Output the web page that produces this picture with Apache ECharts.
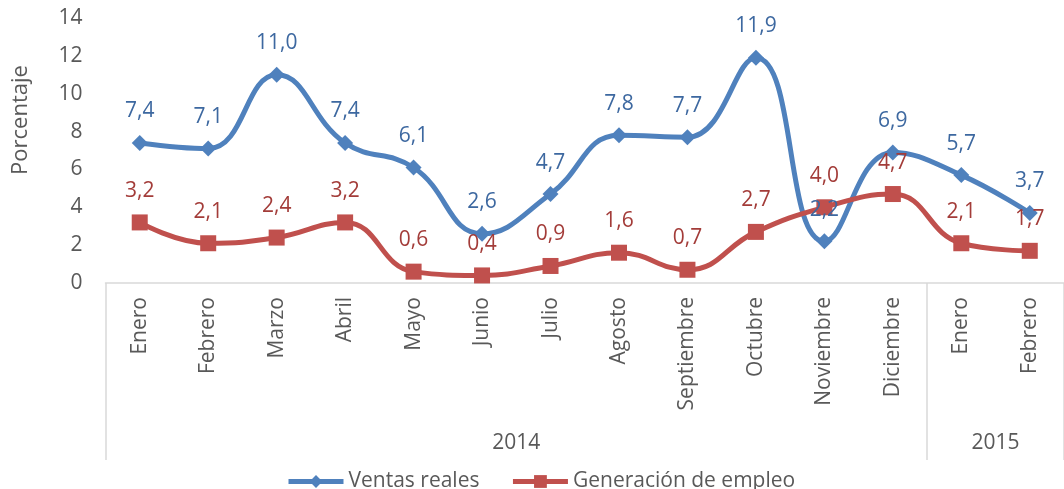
<!DOCTYPE html>
<html>
<head>
<meta charset="utf-8">
<script src="https://cdn.jsdelivr.net/npm/echarts@6/dist/echarts.min.js"></script>
<style>
  html, body { margin: 0; padding: 0; background: #fff; }
  #chart { width: 1064px; height: 489px; }
</style>
</head>
<body>
<div id="chart"></div>
<script>
let meses = ['Enero', 'Febrero', 'Marzo', 'Abril', 'Mayo', 'Junio', 'Julio', 'Agosto',
             'Septiembre', 'Octubre', 'Noviembre', 'Diciembre', 'Enero', 'Febrero'];
let ventas = [7.4, 7.1, 11.0, 7.4, 6.1, 2.6, 4.7, 7.8, 7.7, 11.9, 2.2, 6.9, 5.7, 3.7];
let empleo = [3.2, 2.1, 2.4, 3.2, 0.6, 0.4, 0.9, 1.6, 0.7, 2.7, 4.0, 4.7, 2.1, 1.7];
// grupos de año: nombre, posicion del centro, limites
let anios = ['2014', '2015'];
let centroAnios = [6, 13];
let limitesAnios = [0, 12, 14];

let fuente = '"Open Sans", sans-serif';
let gris = '#595959';
let tam = 21;

let chart = echarts.init(document.getElementById('chart'));

function etiqueta(color) {
    return {
        show: true,
        position: 'top',
        distance: 13,
        color: color,
        fontSize: tam,
        fontFamily: fuente,
        formatter: function (p) {
            return p.value.toFixed(1).replace('.', ',');
        }
    };
}

let option = {
    animation: false,
    grid: { left: 105.5, right: -8.6, top: 18, bottom: 206 },
    legend: {
        left: 281,
        top: 466,
        itemWidth: 55,
        itemHeight: 16,
        itemGap: 31,
        lineStyle: { width: 5 },
        textStyle: { color: gris, fontSize: tam, fontFamily: fuente },
        data: ['Ventas reales', 'Generación de empleo']
    },
    graphic: [{
        type: 'text',
        x: 10,
        y: 120,
        rotation: Math.PI / 2,
        style: {
            text: 'Porcentaje',
            fill: gris,
            fontSize: 22,
            fontFamily: fuente,
            align: 'center',
            verticalAlign: 'top'
        }
    }],
    xAxis: [{
        type: 'category',
        data: meses,
        boundaryGap: true,
        axisLine: { lineStyle: { color: '#d9d9d9', width: 1.5 } },
        axisTick: { show: false },
        axisLabel: {
            rotate: 90,
            margin: 14,
            interval: 0,
            color: gris,
            fontSize: tam,
            fontFamily: fuente
        }
    }, {
        type: 'value',
        min: 0,
        max: 14,
        position: 'bottom',
        axisLine: { show: false },
        splitLine: { show: false },
        axisTick: {
            show: true,
            customValues: limitesAnios,
            length: 177,
            lineStyle: { color: '#d9d9d9', width: 1.5 }
        },
        axisLabel: {
            customValues: centroAnios,
            margin: 150,
            color: gris,
            fontSize: tam,
            fontFamily: fuente,
            formatter: function (v) {
                return anios[centroAnios.indexOf(v)];
            }
        }
    }],
    yAxis: {
        type: 'value',
        min: 0,
        max: 14,
        interval: 2,
        axisLine: { show: false },
        axisTick: { show: false },
        splitLine: { show: false },
        axisLabel: { margin: 23, color: gris, fontSize: tam, fontFamily: fuente }
    },
    series: [{
        name: 'Ventas reales',
        type: 'line',
        data: ventas,
        smooth: 0.45,
        symbol: 'diamond',
        symbolSize: 16,
        lineStyle: { width: 5, color: '#4f81bd' },
        itemStyle: { color: '#4f81bd' },
        label: etiqueta('#3d68a0')
    }, {
        name: 'Generación de empleo',
        type: 'line',
        data: empleo,
        smooth: 0.45,
        symbol: 'rect',
        symbolSize: 16,
        lineStyle: { width: 5, color: '#c0504d' },
        itemStyle: { color: '#c0504d' },
        label: etiqueta('#a33c39')
    }]
};

chart.setOption(option);
</script>
</body>
</html>
